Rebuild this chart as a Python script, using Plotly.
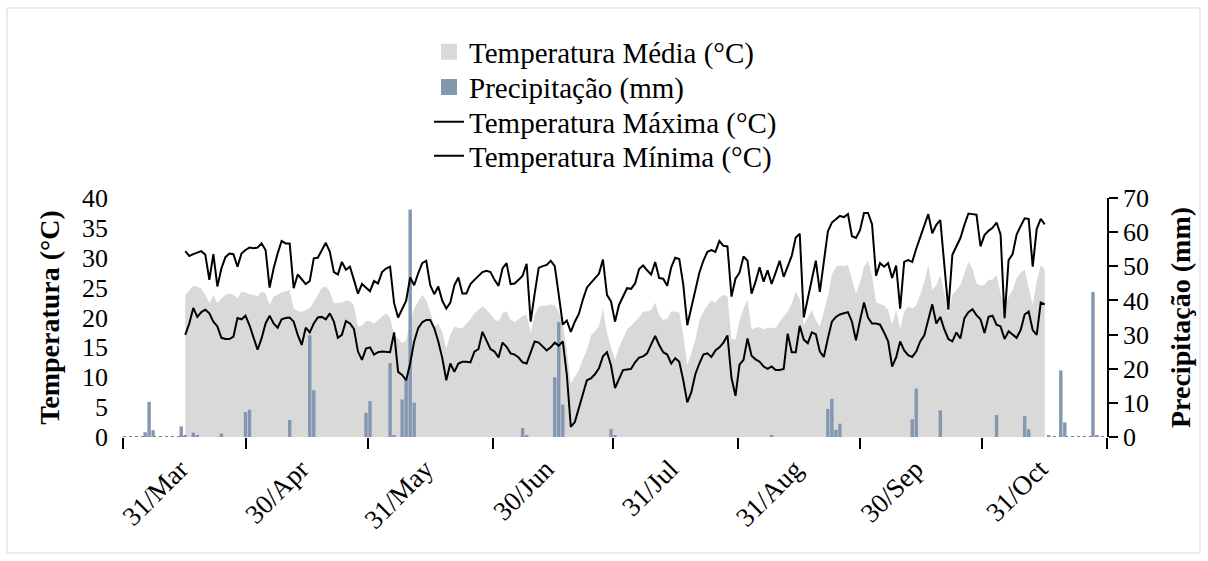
import pandas as pd
import plotly.graph_objects as go

# ---------------- data ----------------
temp_start = "2019-03-31"
temp_end = "2019-10-31"

t_max = [
    31.1, 30.3, 30.6, 30.9, 31.1, 30.5, 26.3, 30.6, 25.2, 28.2,
    30.1, 30.7, 30.6, 28.5, 30.7, 31.3, 31.7, 31.6, 31.7, 32.4,
    31.3, 25.0, 28.2, 30.7, 32.8, 32.4, 32.4, 24.9, 27.2, 26.4,
    25.6, 26.1, 29.9, 30.0, 31.3, 32.5, 31.0, 27.6, 27.2, 29.3,
    28.0, 28.5, 26.3,
    24.0, 25.6, 25.0, 24.4, 26.1, 25.7, 27.6, 28.2, 28.5, 22.4,
    20.0, 21.5, 22.8, 26.7, 25.4, 27.4, 29.1, 29.5, 25.4, 23.9,
    25.2, 22.8, 21.5, 22.5, 25.4, 26.7, 24.0, 24.0, 25.6, 26.3,
    27.0, 27.6, 27.8, 27.6, 26.3, 25.3, 28.2, 29.1, 25.6, 25.7,
    26.3, 27.0, 29.0,
    19.3, 24.0, 28.3, 28.6, 28.8, 29.5, 28.6, 23.8, 18.8, 19.5,
    17.6, 19.3, 20.6, 23.0, 25.0, 25.8, 26.5, 27.3, 29.7, 23.8,
    22.7, 19.3, 22.1, 23.5, 24.9, 24.8, 25.7, 28.1, 28.7, 27.9,
    27.2, 29.3, 26.6, 26.5, 25.3, 28.4, 30.0, 29.8, 25.5, 18.7,
    21.5, 24.5, 27.5,
    29.5, 31.0, 31.3, 31.0, 32.8, 32.0, 31.9, 23.5, 26.5, 27.5,
    30.2, 29.5, 24.0, 26.0, 28.4, 26.0, 27.9, 25.6, 27.5, 29.5,
    26.8, 28.5, 30.3, 33.4, 34.0, 20.0, 23.0, 26.5, 29.5, 24.3,
    29.0, 34.4, 35.9, 36.5, 37.0, 36.8, 37.3, 33.6, 33.3, 34.6,
    37.5, 37.5, 35.6,
    27.0, 29.1, 28.5, 29.1, 26.6, 28.7, 21.5, 29.3, 29.6, 29.3,
    31.5, 33.5, 35.5, 37.3, 34.1, 35.5, 36.3, 28.5, 21.3, 30.5,
    32.0, 33.3, 35.5, 37.4, 37.3, 37.2, 31.9, 33.8, 34.5, 35.0,
    35.9, 33.9, 19.9, 29.6, 30.6, 33.9, 35.3, 36.6, 36.5, 28.5,
    34.8, 36.5, 35.6,
]

t_min = [
    17.1, 19.0, 21.6, 20.1, 20.9, 21.3, 20.7, 19.3, 18.5, 16.6,
    16.4, 16.4, 16.8, 19.9, 19.7, 20.3, 18.7, 16.5, 14.6, 16.5,
    19.0, 20.3, 19.0, 18.3, 19.7, 19.9, 20.0, 19.3, 17.1, 15.4,
    18.3, 17.5, 19.0, 20.0, 20.1, 19.7, 20.7, 19.3, 16.6, 17.1,
    19.4, 19.0, 18.1,
    14.3, 12.9, 14.8, 15.0, 13.8, 14.2, 14.3, 14.3, 14.2, 17.5,
    10.9, 10.4, 9.5, 12.3, 16.0, 18.2, 19.2, 19.6, 19.6, 18.2,
    16.0, 13.2, 9.5, 12.3, 10.9, 12.3, 12.6, 12.6, 12.5, 14.3,
    14.7, 17.6, 16.0, 14.7, 14.3, 13.3, 15.8, 15.1, 14.0, 13.8,
    13.3, 12.5, 12.3,
    14.2, 16.0, 15.8, 15.1, 14.5, 15.0, 15.8, 15.3, 16.0, 10.5,
    1.7, 2.5, 4.8, 7.0, 9.5, 9.8, 10.5, 11.5, 13.5, 14.2,
    12.0, 8.2, 9.8, 11.2, 11.3, 11.4, 12.5, 13.3, 13.5, 14.0,
    15.5, 16.9, 15.4, 14.2, 13.8, 12.3, 13.2, 12.6, 9.5, 5.8,
    7.5, 10.5, 12.3,
    13.8, 14.0, 13.4, 14.5, 15.0, 15.8, 17.0, 9.9, 6.9, 12.1,
    12.9, 16.5, 13.6, 13.0, 12.6, 11.8, 11.4, 11.8, 11.2, 11.2,
    11.4, 17.3, 14.2, 14.2, 18.6, 16.3, 15.7, 17.5, 17.2, 14.3,
    13.4, 16.5, 19.3, 20.1, 20.5, 20.7, 20.9, 19.3, 16.2, 19.5,
    22.5, 20.0, 19.0,
    19.0, 18.8, 17.5, 16.0, 11.8, 13.3, 16.0, 14.5, 13.7, 13.4,
    14.3, 16.0, 17.0, 19.6, 22.2, 19.0, 20.1, 18.0, 16.4, 16.0,
    17.5, 16.5, 19.9, 20.9, 21.4, 20.4, 19.7, 17.4, 20.1, 20.3,
    18.8, 18.5, 16.4, 17.7, 17.1, 16.6, 17.9, 20.5, 21.0, 17.9,
    17.1, 22.5, 22.2,
]

t_mean = [
    23.8, 24.6, 25.3, 25.2, 24.8, 23.8, 22.4, 23.8, 22.4, 23.2,
    23.8, 24.0, 23.8, 23.2, 24.3, 24.2, 23.9, 23.8, 23.5, 24.3,
    24.0, 22.1, 23.5, 23.8, 24.2, 24.4, 24.6, 21.5, 21.1, 20.9,
    21.3, 21.6, 22.6, 23.9, 25.0, 25.2, 24.3, 22.4, 22.4, 22.5,
    22.8, 22.8, 22.0,
    18.5, 18.6, 19.4, 19.4, 19.0, 19.6, 20.1, 20.7, 20.0, 17.1,
    16.5, 15.7, 16.2, 19.3, 21.5, 22.6, 23.8, 22.9, 21.0, 18.5,
    19.0, 17.6, 14.8, 17.1, 18.5, 18.2, 18.2, 19.0, 19.7, 20.7,
    21.3, 21.9, 21.3, 20.4, 19.7, 19.3, 20.7, 21.0, 19.6, 19.3,
    19.7, 20.3, 20.5,
    17.4, 20.4, 21.8, 22.0, 22.0, 22.2, 22.0, 21.0, 19.0, 14.5,
    9.0, 10.0, 11.2, 13.0, 14.5, 17.0, 17.8, 18.5, 21.5, 17.5,
    15.0, 12.9, 15.0, 16.4, 18.0, 18.6, 19.3, 20.0, 21.0, 21.0,
    21.3, 22.5, 20.4, 19.6, 19.8, 21.0, 21.0, 20.8, 17.0, 12.0,
    14.0, 16.3, 19.5,
    21.0, 22.0, 22.8, 22.5, 23.3, 23.8, 23.5, 16.4, 16.3, 19.5,
    21.5, 23.0, 18.0, 18.3, 18.4, 18.0, 18.3, 18.3, 18.2, 19.3,
    20.2, 21.0, 22.3, 24.3, 23.2, 18.7, 20.0, 21.3, 19.5, 18.5,
    21.0, 23.5, 27.2, 28.5, 28.7, 28.6, 28.8, 26.2, 24.0, 25.8,
    28.5, 29.5, 27.0,
    22.5, 22.3, 22.0, 21.3, 18.8, 21.3, 18.0, 21.0, 21.8, 21.5,
    22.0, 23.8, 26.0, 28.8, 24.6, 25.4, 27.1, 24.0, 20.7, 23.8,
    24.5, 25.5, 27.5, 29.3, 28.2, 25.7, 25.3, 25.5, 26.3, 26.3,
    27.1, 24.0, 21.8, 23.5, 24.6, 26.6, 27.5, 28.0, 25.0, 22.1,
    26.0, 28.8, 28.0,
]

precip_dates = [
    "2019-03-21", "2019-03-22", "2019-03-23", "2019-03-30", "2019-03-31",
    "2019-04-02", "2019-04-03", "2019-04-09", "2019-04-15", "2019-04-16",
    "2019-04-26", "2019-05-01", "2019-05-02", "2019-05-15", "2019-05-16",
    "2019-05-21", "2019-05-22", "2019-05-24", "2019-05-25", "2019-05-26",
    "2019-05-27", "2019-06-23", "2019-06-24", "2019-07-01", "2019-07-02",
    "2019-07-03", "2019-07-15", "2019-07-16", "2019-08-24", "2019-09-07",
    "2019-09-08", "2019-09-09", "2019-09-10", "2019-09-28", "2019-09-29",
    "2019-10-05", "2019-10-19", "2019-10-26", "2019-10-27", "2019-11-01",
    "2019-11-04", "2019-11-05", "2019-11-12", "2019-11-13",
]
precip = [
    1.4, 10.3, 2.0, 3.1, 0.5,
    1.3, 0.4, 1.0, 7.3, 8.0,
    5.0, 29.8, 13.7, 7.1, 10.5,
    21.7, 0.5, 11.0, 17.0, 66.6,
    10.1, 2.6, 0.5, 17.5, 33.7,
    9.5, 2.3, 0.5, 0.5, 8.2,
    11.2, 2.1, 3.9, 5.2, 14.2,
    7.8, 6.4, 6.1, 2.3, 0.5,
    19.5, 4.3, 42.5, 0.3,
]

x_label_dates = ["2019-03-31", "2019-04-30", "2019-05-31", "2019-06-30",
                 "2019-07-31", "2019-08-31", "2019-09-30", "2019-10-31"]
x_labels = ["31/Mar", "30/Apr", "31/May", "30/Jun",
            "31/Jul", "31/Aug", "30/Sep", "31/Oct"]
x_tickmarks = ["2019-03-15 12:00", "2019-04-15 00:00", "2019-05-15 12:00",
               "2019-06-15 12:00", "2019-07-15 12:00", "2019-08-15 12:00",
               "2019-09-15 00:00", "2019-10-15 12:00", "2019-11-15 12:00"]
x_range = ["2019-03-15 12:00", "2019-11-15 12:00"]

temp_ticks = [0, 5, 10, 15, 20, 25, 30, 35, 40]
precip_ticks = [0, 10, 20, 30, 40, 50, 60, 70]

# ---------------- figure ----------------
dates = pd.date_range(temp_start, temp_end, freq="D")

FONT = "Liberation Serif, Times New Roman, serif"
GREY = "#d9d9d9"
BLUE = "#8497b0"
NAME_MEAN = "Temperatura Média (°C)"
NAME_RAIN = "Precipitação (mm)"

fig = go.Figure()
# legend entries drawn as squares (proxies carry no data)
fig.add_trace(go.Scatter(
    x=[None], y=[None], mode="markers", name=NAME_MEAN,
    marker=dict(symbol="square", size=18, color=GREY), yaxis="y",
    legend="legend",
))
fig.add_trace(go.Scatter(
    x=[None], y=[None], mode="markers", name=NAME_RAIN,
    marker=dict(symbol="square", size=18, color=BLUE), yaxis="y",
    legend="legend2",
))
fig.add_trace(go.Scatter(
    x=dates, y=t_mean, mode="lines", fill="tozeroy",
    fillcolor=GREY, line=dict(width=0, color=GREY),
    name=NAME_MEAN, yaxis="y", showlegend=False,
))
fig.add_trace(go.Bar(
    x=pd.to_datetime(precip_dates), y=precip, marker=dict(color=BLUE, line=dict(width=0)),
    width=0.85 * 86400000, name=NAME_RAIN, yaxis="y2", showlegend=False,
))
fig.add_trace(go.Scatter(
    x=dates, y=t_max, mode="lines", line=dict(color="black", width=2),
    name="Temperatura Máxima (°C)", yaxis="y3", legend="legend3",
))
fig.add_trace(go.Scatter(
    x=dates, y=t_min, mode="lines", line=dict(color="black", width=2),
    name="Temperatura Mínima (°C)", yaxis="y3", legend="legend4",
))


def legend_row(y):
    return dict(
        x=0.311, y=y, xanchor="left", yanchor="middle",
        font=dict(size=29, family=FONT), bgcolor="rgba(0,0,0,0)",
        itemwidth=30,
    )


fig.update_layout(
    width=1208, height=561,
    margin=dict(l=123, r=101, t=198, b=124),
    paper_bgcolor="white", plot_bgcolor="white",
    font=dict(family=FONT, color="black", size=26),
    showlegend=True,
    legend=legend_row(1.611),
    legend2=legend_row(1.464),
    legend3=legend_row(1.318),
    legend4=legend_row(1.176),
    xaxis=dict(
        type="date", range=x_range,
        tickmode="array", tickvals=x_label_dates, ticktext=x_labels,
        ticks="", tickangle=-45, ticklabelstandoff=10, ticklabelshift=-5,
        tickfont=dict(size=27),
        showgrid=False, zeroline=False, showline=False,
        minor=dict(tickmode="array", tickvals=x_tickmarks, ticks="outside",
                   ticklen=11, tickcolor="black", tickwidth=1.5, showgrid=False),
    ),
    yaxis=dict(
        range=[0, 40], tickmode="array", tickvals=temp_ticks,
        ticks="", ticklabelstandoff=14, showgrid=False, zeroline=False, showline=False,
        tickfont=dict(size=26),
        title=dict(text="<b>Temperatura (°C)</b>", font=dict(size=28), standoff=14),
    ),
    yaxis2=dict(
        range=[0, 70], tickmode="array", tickvals=precip_ticks,
        overlaying="y", side="right", anchor="x",
        ticks="outside", ticklen=9, tickcolor="black", tickwidth=1.5,
        showline=True, linecolor="black", linewidth=1.5,
        showgrid=False, zeroline=False, tickfont=dict(size=26),
        title=dict(text="<b>Precipitação (mm)</b>", font=dict(size=28), standoff=22),
    ),
    yaxis3=dict(
        overlaying="y", matches="y", visible=False, range=[0, 40],
        showgrid=False, zeroline=False,
    ),
    shapes=[
        dict(type="line", xref="paper", yref="y", x0=0, x1=1, y0=0, y1=0,
             line=dict(color="black", width=1, dash="dot"), layer="below"),
        dict(type="rect", xref="paper", yref="paper",
             x0=-0.118, x1=1.0945, y0=-0.485, y1=1.795,
             line=dict(color=GREY, width=1), fillcolor="rgba(0,0,0,0)", layer="below"),
    ],
)

fig.write_html("out.html", config={"displayModeBar": False},
               post_script="document.body.style.margin='0';")
